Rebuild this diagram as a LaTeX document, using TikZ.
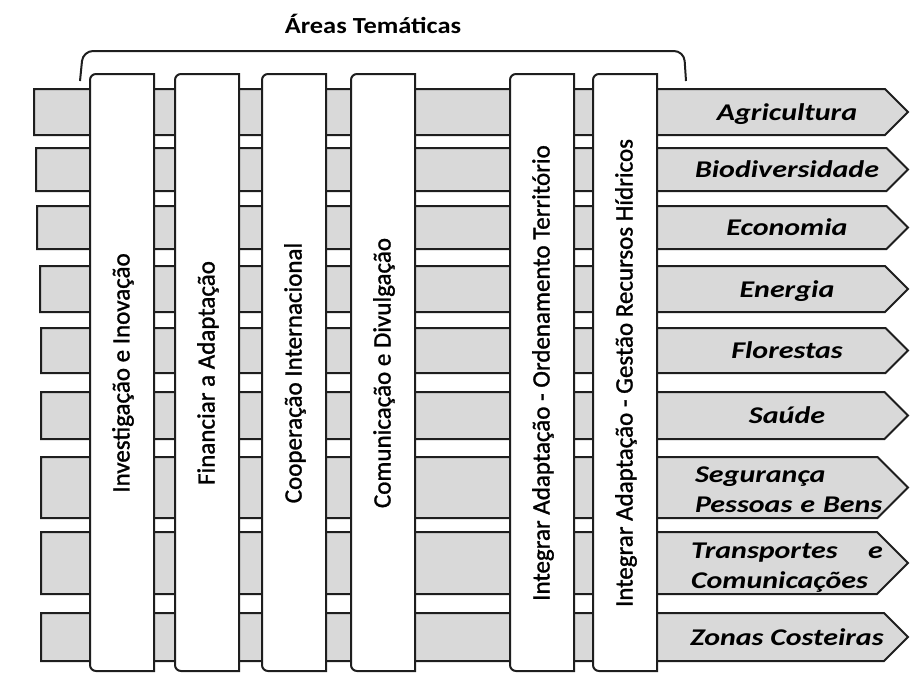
\documentclass[tikz,border=0pt]{standalone}
\usepackage{fontspec}
\setmainfont{Carlito}
\newfontfamily\rowfont[FakeStretch=1.25]{Carlito}
\newfontfamily\headfont[FakeStretch=1.15]{Carlito}
\newfontfamily\themefont[FakeBold=1.2]{Carlito}
\usepackage{tikz}
\usetikzlibrary{positioning}
\definecolor{bargray}{HTML}{D9D9D9}
\definecolor{edge}{HTML}{1E1E1E}

\begin{document}
\begin{tikzpicture}[x=1pt, y=-1pt, line width=2pt,
  bar/.style={draw=edge, fill=bargray},
  column/.style={draw=edge, fill=white},
  area/.style={font=\rowfont\bfseries\itshape\fontsize{24}{30}\selectfont, inner sep=0pt},
  theme/.style={rotate=90, font=\themefont\fontsize{25}{30}\selectfont, inner sep=0pt}]
\useasboundingbox (0,0) rectangle (910,673);
% title and brace over the thematic columns
\node[anchor=base, font=\headfont\bfseries\fontsize{23}{27}\selectfont] (title) at (373,33) {Áreas Temáticas};
\draw[edge, rounded corners=10] (80,81) -- (83,51) -- (684,51) -- (686,81);
% sector bars: top/bottom/left edge
\foreach \t/\b/\l in {89/135/34, 148/191/36, 206/249/37, 266/312/40, 328/373/41, 392/439/41, 457/518/41, 532/594/41, 613/661/41}
  \draw[bar] (\l,\t) -- ({908-(\b-\t)/2},\t) -- (908,{(\t+\b)/2}) -- ({908-(\b-\t)/2},\b) -- (\l,\b) -- cycle;
% thematic columns, rounded on the left side only
\foreach \l in {90, 175, 262, 351, 510, 593}
  \draw[column] (\l+64,74) -- (\l+6,74) arc[start angle=270, end angle=180, radius=6]
    -- (\l,665) arc[start angle=180, end angle=90, radius=6] -- (\l+64,671) -- cycle;
\node[theme] (inv) at (123,373) {Investigação e Inovação};
\node[theme] (fin) at (208,373) {Financiar a Adaptação};
\node[theme] (coop) at (295,373) {Cooperação Internacional};
\node[theme] (com) at (384,373) {Comunicação e Divulgação};
\node[theme] (ord) at (543,373) {Integrar Adaptação - Ordenamento Território};
\node[theme] (hid) at (626,373) {Integrar Adaptação - Gestão Recursos Hídricos};
% sector labels (baseline = bar centre + 8)
\foreach \y/\n/\txt in {120/agr/Agricultura, 177.5/bio/Biodiversidade, 235.5/eco/Economia, 297/ene/Energia, 358.5/flo/Florestas, 423.5/sau/Saúde, 645/zon/Zonas Costeiras}
  \node[area, anchor=base] (\n) at (787,\y) {\txt};
\node[area, anchor=base west, text width=193, align=left] (seg) at (694,482) {Segurança\\Pessoas e Bens};
\node[area, anchor=base west, text width=192, align=left] (tra) at (690,558) {Transportes\hfill e\\Comunicações};
\end{tikzpicture}
\end{document}
